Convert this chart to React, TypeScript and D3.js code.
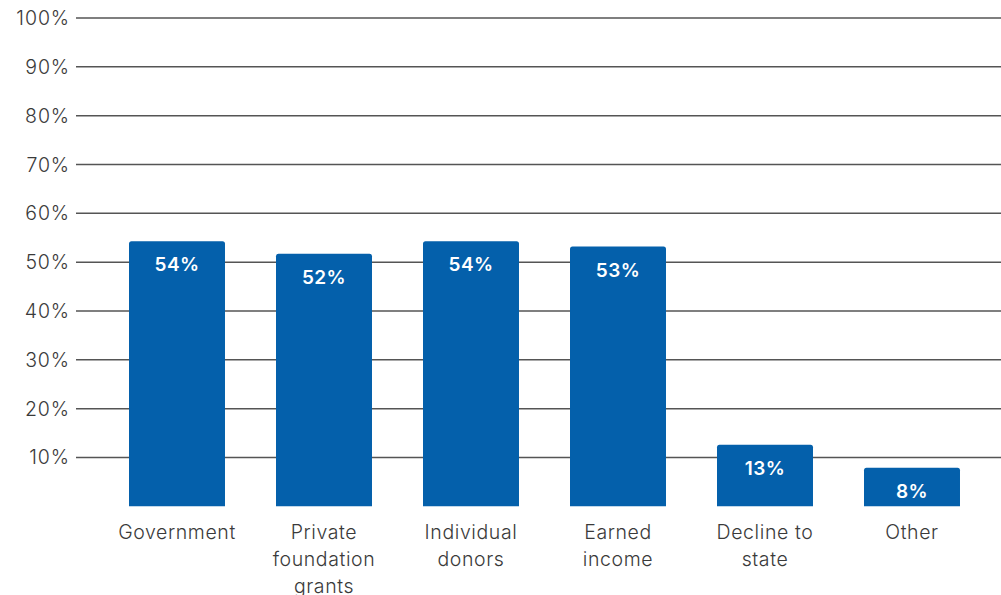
import React from "react";
import * as d3 from "d3";

const categories: string[][] = [
  ["Government"],
  ["Private", "foundation", "grants"],
  ["Individual", "donors"],
  ["Earned", "income"],
  ["Decline to", "state"],
  ["Other"],
];
const values: number[] = [54.3, 51.7, 54.3, 53.2, 12.6, 7.9];
const yTicks: number[] = [10, 20, 30, 40, 50, 60, 70, 80, 90, 100];

const W = 1001;
const H = 595;
const FONT = "Inter, 'Noto Sans', sans-serif";

export default function App() {
  const keys = categories.map((c) => c.join(" "));
  const x = d3
    .scaleBand<string>()
    .domain(keys)
    .range([103.5, 985.5])
    .paddingInner(0.347)
    .paddingOuter(0.1735);
  const y = d3.scaleLinear().domain([0, 100]).range([506.3, 18]);
  const r = 2.5;

  const barPath = (x0: number, w: number, top: number, bottom: number) =>
    `M${x0},${bottom}V${top + r}Q${x0},${top} ${x0 + r},${top}H${x0 + w - r}Q${x0 + w},${top} ${x0 + w},${top + r}V${bottom}Z`;

  return (
    <svg
      width={W}
      height={H}
      style={{ position: "absolute", left: 0, top: 0, background: "#fff" }}
    >
      {yTicks.map((t) => (
        <g key={t}>
          <line x1={76} x2={W} y1={y(t)} y2={y(t)} stroke="#555" strokeWidth={1.5} />
          <text
            x={70}
            y={y(t)}
            dy="0.36em"
            textAnchor="end"
            fontFamily={FONT}
            fontSize={19.5}
            fontWeight={300}
            letterSpacing={0.9}
            fill="#3a3a3a"
          >
            {d3.format("d")(t)}%
          </text>
        </g>
      ))}
      {values.map((v, i) => {
        const k = keys[i];
        const x0 = x(k)!;
        const w = x.bandwidth();
        return (
          <g key={k}>
            <path d={barPath(x0, w, y(v), y(0))} fill="#0460AB" />
            <text
              x={x0 + w / 2}
              y={y(v) + 30}
              textAnchor="middle"
              fontFamily={FONT}
              fontSize={19}
              fontWeight={600}
              letterSpacing={0.4}
              fill="#fff"
            >
              {Math.round(v)}%
            </text>
          </g>
        );
      })}
      {categories.map((lines, i) => {
        const k = keys[i];
        const cx = x(k)! + x.bandwidth() / 2;
        return (
          <text
            key={k}
            textAnchor="middle"
            fontFamily={FONT}
            fontSize={19.5}
            fontWeight={300}
            letterSpacing={0.6}
            fill="#3a3a3a"
          >
            {lines.map((ln, j) => (
              <tspan key={j} x={cx} y={539 + j * 27}>
                {ln}
              </tspan>
            ))}
          </text>
        );
      })}
    </svg>
  );
}
